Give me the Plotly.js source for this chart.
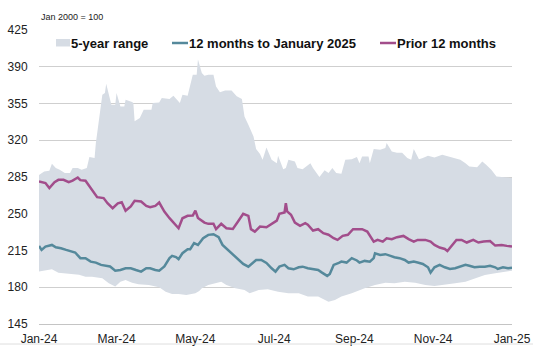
<!DOCTYPE html>
<html>
<head>
<meta charset="utf-8">
<script src="https://cdn.plot.ly/plotly-3.0.1.min.js"></script>
<style>html,body{margin:0;padding:0;background:#fff;}#chart{width:533px;height:348px;}</style>
</head>
<body>
<div id="chart"></div>
<script>
// Day offsets are days since 1 Jan 2024
const upperDays = [0,3,4,8,10,13,16,20,24,26,30,33,37,39,43,44,46,49,51,52,56,59,60,63,66,67,72,73,74,78,81,87,88,93,95,101,104,109,111,115,119,122,123,126,128,131,135,137,140,144,149,153,157,159,162,166,168,171,173,176,180,184,185,189,191,193,198,200,204,210,212,217,221,224,227,230,234,237,242,246,248,250,255,256,259,264,268,269,273,277,281,285,288,290,294,297,301,306,312,315,321,326,330,333,339,343,346,350,354,359,364,366];
const upperVals = [287,290,290.3,291,297.6,293.5,292,288.7,288.7,293.5,293.5,292,293.5,304,303,317.3,336.4,363.4,364.9,373.9,353.9,353.9,364.9,352.2,352.2,358.6,356.5,355.5,338,341.2,349,349,355.5,356,360.2,359.3,362.4,355.5,363.4,362.4,382.5,382.5,397,384,381.5,382.5,382.5,371.3,365.6,367.5,367.5,361.8,359.3,342.7,334.8,323.6,311.6,307,301.4,313.2,301.4,298.2,305.2,292.5,293.5,301.4,299.8,293.5,292.5,298.2,293.5,284.9,291.5,288.7,293.5,288.7,288,301.4,302,304,298.2,304.6,304.6,298.2,311.6,311,312.6,317.3,309.4,308,308,303,301.4,311.6,302,303,305.2,303.6,306.2,305.2,303,301.4,298.2,295,294.4,299.8,296.6,291.8,285.5,284.9,284,284];
const lowerDays = [0,5,10,15,23,31,36,41,49,54,59,63,67,72,77,85,93,98,103,108,114,119,121,124,126,131,136,141,145,152,159,163,170,177,185,193,201,208,216,224,229,234,242,248,252,260,268,275,283,291,299,306,314,322,330,337,345,353,361,366];
const lowerVals = [194.9,195.8,197.1,193.9,192.7,191.8,190.1,190.1,188.6,183.8,180.6,185.3,186.9,184.4,182.8,182.2,180,175.8,173.6,173.6,172.7,173.6,174.3,176.5,179,182.2,183.8,185.3,182.2,179,177.4,174.3,177.4,178,175.8,174.3,174.3,171.1,171.1,166.3,167.9,171.1,174.3,177.4,179,182.2,184.4,183.8,185.3,184.4,182.2,181.2,182.2,183.8,185.3,188.6,191.7,193.3,194.9,195.8];
const recentDays = [0,2,5,10,13,17,21,25,28,32,36,40,44,48,52,55,59,63,67,71,75,79,83,86,90,93,97,101,103,106,108,111,115,117,120,123,127,131,135,139,142,146,150,154,158,162,165,168,172,176,180,183,186,190,193,197,201,204,208,212,216,219,223,225,228,232,234,238,242,246,248,252,256,259,260,264,268,272,275,279,283,286,290,293,297,301,303,306,310,314,318,322,326,330,333,337,341,345,349,353,355,359,363,366];
const recentVals = [219.4,215.6,218.7,220.3,218,217.2,215.6,214,213.1,207.7,207.7,204.4,203.5,201.3,200.4,199.8,195.8,196.4,198.1,198.1,196.4,194.9,198.1,198.1,196.4,195.8,199.8,207.7,209.9,208.7,206.8,212.4,216.2,216.2,222,220.3,226.7,229.9,230.5,227.7,220.3,215.6,210.8,206,202.2,199.6,203.2,206,206,203.2,198.1,194.9,199.6,201.3,198.1,197.1,199,199.6,198.1,197.1,196.4,193.9,190.8,192.7,201.3,203.2,204.4,203.5,207.7,205.5,203.5,205.1,204.4,207.7,212.4,210.8,211.5,209.9,208.6,207.7,206,203.5,204.4,203.5,202.2,199,193.9,199,201.3,199,197.4,198.1,199.6,201.3,200.4,199,199.6,199.6,200.4,199,197.4,199,198.1,198.7];
const priorDays = [0,5,8,12,15,19,23,26,30,32,36,39,43,45,50,53,57,61,64,67,71,74,79,83,86,90,93,97,101,105,108,111,115,119,121,123,125,128,131,135,137,141,145,150,154,158,162,164,167,171,176,180,184,186,190,191,192,195,198,202,206,208,212,216,220,224,228,231,235,239,243,247,250,254,259,262,266,269,273,277,282,286,290,293,299,303,306,310,314,316,319,323,327,331,336,340,344,349,353,358,362,366];
const priorVals = [280.7,279.2,274.4,280.1,282.3,282.3,280,281.5,284.5,282,281.5,276,269.6,265.8,264.9,260.1,255.3,260,261,252.8,256.9,262.3,261.6,257.5,256.3,257.5,260.7,252,245.8,240.4,236.2,245.7,248,248.3,253,246,244.2,241.6,240.4,240.4,235.3,240.4,236.2,235.6,242.6,249.9,248,235.3,233,237.8,237.2,240.4,243.5,249.9,251.2,260.1,252.2,249,241.6,238.5,241,239.5,234,235.3,231.5,230,226.7,225.1,229,230,235.3,235.3,235.3,233,223.5,225.1,223.5,226.7,225.8,227.7,228.9,225.8,223.5,225.1,225.1,223.5,220.3,217.8,216.5,214.6,218.7,225.1,225.1,222.6,225.1,222.6,223.5,224.1,219.7,220.3,219.4,218.7];
const yTicks = [145,180,215,250,285,320,355,390,425];
const seriesNames = ['5-year range','12 months to January 2025','Prior 12 months'];

const start = Date.UTC(2024,0,1);
const toDate = d => new Date(start + d*86400000).toISOString().slice(0,10);

const teal = '#55899b', plum = '#a24d8b', band = '#d6dce4';
const traces = [
  {x: lowerDays.map(toDate), y: lowerVals, mode:'lines', line:{width:0,color:band}, showlegend:false, hoverinfo:'skip'},
  {x: upperDays.map(toDate), y: upperVals, mode:'lines', line:{width:0,color:band}, fill:'tonexty', fillcolor:band, name:seriesNames[0]},
  {x: recentDays.map(toDate), y: recentVals, mode:'lines', line:{width:2.5,color:teal}, name:seriesNames[1]},
  {x: priorDays.map(toDate), y: priorVals, mode:'lines', line:{width:2.5,color:plum}, name:seriesNames[2]}
];

// plot area in pixels: x 39..512, y 30..324
const W = 473, H = 294;
const px = v => (v - 39) / W;
const py = v => (324 - v) / H;
const legY = 43;
const legFont = {family:'Liberation Sans, Arial, sans-serif', size:13, color:'#111', weight:'bold'};

const layout = {
  width:533, height:348,
  margin:{l:39, r:21, t:30, b:24},
  paper_bgcolor:'#fff', plot_bgcolor:'#fff',
  font:{family:'Liberation Sans, Arial, sans-serif', size:12, color:'#222'},
  showlegend:false,
  xaxis:{type:'date', range:['2024-01-01','2025-01-01'], tick0:'2024-01-01', dtick:'M2', tickformat:'%b-%y',
         showgrid:false, showline:true, linecolor:'#c4c4c4', linewidth:1, ticks:'outside', ticklen:4, tickcolor:'rgba(0,0,0,0)',
         tickfont:{size:12, color:'#222'}, fixedrange:true},
  yaxis:{range:[145,425], tickvals:yTicks, showgrid:true, gridcolor:'#cfcfcf', gridwidth:1, zeroline:false,
         ticks:'outside', ticklen:8, tickcolor:'rgba(0,0,0,0)', tickfont:{size:12, color:'#222'}, fixedrange:true},
  shapes:[
    {type:'rect', xref:'paper', yref:'paper', x0:px(56), x1:px(70), y0:py(46.5), y1:py(39), fillcolor:band, line:{width:0}},
    {type:'line', xref:'paper', yref:'paper', x0:px(172), x1:px(188), y0:py(legY), y1:py(legY), line:{color:teal, width:2.5}},
    {type:'line', xref:'paper', yref:'paper', x0:px(380), x1:px(396), y0:py(legY), y1:py(legY), line:{color:plum, width:2.5}},
    {type:'line', xref:'paper', yref:'paper', x0:px(0), x1:px(533), y0:py(344), y1:py(344), line:{color:'#dedede', width:1}}
  ],
  annotations:[
    {text:'Jan 2000 = 100', xref:'paper', yref:'paper', x:0, y:1, xanchor:'left', yanchor:'bottom', yshift:6,
     showarrow:false, font:{size:9, color:'#222'}},
    {text:seriesNames[0], xref:'paper', yref:'paper', x:px(70), y:py(legY), xanchor:'left', yanchor:'middle', showarrow:false, font:legFont, borderpad:0},
    {text:seriesNames[1], xref:'paper', yref:'paper', x:px(188), y:py(legY), xanchor:'left', yanchor:'middle', showarrow:false, font:legFont, borderpad:0},
    {text:seriesNames[2], xref:'paper', yref:'paper', x:px(396), y:py(legY), xanchor:'left', yanchor:'middle', showarrow:false, font:legFont, borderpad:0}
  ]
};
Plotly.newPlot('chart', traces, layout, {displayModeBar:false, staticPlot:true});
</script>
</body>
</html>
